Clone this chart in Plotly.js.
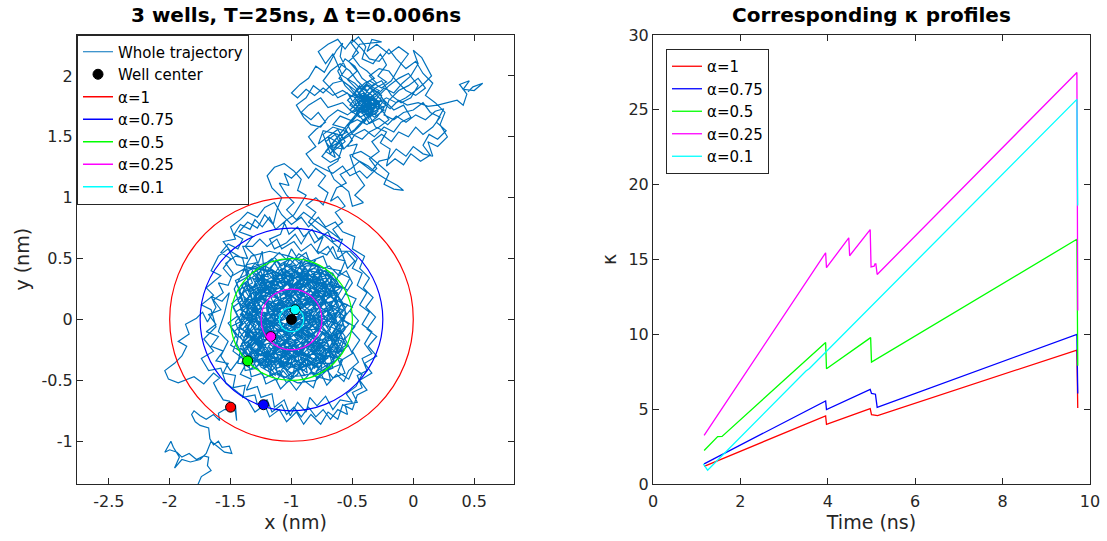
<!DOCTYPE html>
<html>
<head>
<meta charset="utf-8">
<script src="https://cdn.plot.ly/plotly-3.0.1.min.js"></script>
<style>
html,body{margin:0;padding:0;background:#ffffff;}
#chart{width:1107px;height:541px;}
</style>
</head>
<body>
<div id="chart"></div>
<script>
// ---------- Left panel: trajectory (x, y in nm) ----------
const tailPts = [[-1.77,-1.36],[-1.74,-1.29],[-1.66,-1.24],[-1.69,-1.20],[-1.68,-1.13],[-1.72,-1.12],[-1.78,-1.15],[-1.84,-1.10],[-1.90,-1.13],[-1.94,-1.09],
[-2.00,-1.07],[-2.04,-1.09],[-1.99,-1.00],[-1.97,-1.05],[-1.92,-1.13],[-1.96,-1.22],[-1.90,-1.15],[-1.83,-1.17],[-1.75,-1.15],[-1.70,-1.10],
[-1.66,-1.00],[-1.60,-1.05],[-1.55,-1.09],[-1.49,-1.10],[-1.51,-1.04],[-1.57,-1.05],[-1.60,-1.00],[-1.64,-1.03],[-1.67,-0.98],[-1.68,-0.89],
[-1.75,-0.87],[-1.79,-0.84],[-1.82,-0.78],[-1.80,-0.75],[-1.75,-0.79],[-1.70,-0.82],[-1.64,-0.78],[-1.59,-0.83],[-1.60,-0.77],[-1.55,-0.74],
[-1.49,-0.74],[-1.46,-0.70],[-1.45,-0.83],[-1.46,-0.76],[-1.51,-0.67],[-1.56,-0.66],[-1.61,-0.58],[-1.64,-0.52],[-1.59,-0.48],
[-1.64,-0.44],[-1.72,-0.53],[-1.80,-0.47],[-1.93,-0.52],[-2.01,-0.49],[-2.04,-0.42],[-1.96,-0.36],[-1.90,-0.30],[-1.86,-0.22],[-1.93,-0.18],
[-1.84,-0.12],[-1.87,-0.04],[-1.78,0.01],[-1.73,0.06],[-1.69,-0.02],[-1.62,0.10],[-1.66,0.19],[-1.57,0.15],[-1.51,0.22],[-1.55,0.05],
[-1.60,-0.10],[-1.52,-0.18],[-1.58,-0.30],[-1.50,-0.42]];

const denseCorePts = [[-0.95,0.32],[-0.78,0.18],[-0.98,0.05],[-1.21,0.26],[-1.35,0.04],[-1.12,-0.14],[-0.85,-0.30],[-0.67,-0.12],[-0.82,0.10],[-0.64,0.21],
[-0.88,0.38],[-1.08,0.20],[-1.28,0.34],[-1.38,0.12],[-1.20,-0.02],[-1.36,-0.22],[-1.14,-0.36],[-0.94,-0.18],[-0.74,-0.34],[-0.60,-0.05],
[-0.78,0.02],[-0.70,0.28],[-0.92,0.14],[-1.10,0.38],[-1.24,0.12],[-1.40,-0.08],[-1.22,-0.26],[-1.02,-0.40],[-0.90,-0.22],[-1.06,-0.04],
[-0.86,-0.08],[-0.62,0.10],[-0.76,0.36],[-0.98,0.24],[-1.16,0.08],[-1.32,0.26],[-1.18,0.40],[-1.00,0.12],[-0.80,-0.18],[-0.66,-0.28],
[-0.88,-0.38],[-1.08,-0.26],[-1.30,-0.34],[-1.42,-0.14],[-1.26,0.06],[-1.04,-0.12],[-0.84,0.04],[-0.70,-0.06],[-0.58,0.14],[-0.72,0.34],
[-0.90,0.28],[-1.06,0.42],[-1.22,0.22],[-1.38,0.30],[-1.30,0.10],[-1.14,-0.06],[-0.96,-0.28],[-0.78,-0.40],[-0.62,-0.22],[-0.76,-0.04],
[-0.94,0.08],[-1.12,0.30],[-0.96,0.40],[-0.80,0.24],[-0.66,0.02],[-0.84,-0.14],[-1.02,-0.32],[-1.20,-0.16],[-1.34,-0.30],[-1.16,-0.42],
[-0.98,-0.20],[-0.82,-0.34],[-0.64,-0.18],[-0.56,0.02],[-0.74,0.16],[-0.90,0.40],[-1.14,0.20],[-1.32,0.40],[-1.42,0.18],[-1.28,-0.04],
[-1.10,0.06],[-0.92,-0.06],[-0.74,-0.24],[-0.90,-0.42],[-1.10,-0.36],[-1.26,-0.20],[-1.40,0.00],[-1.24,0.32],[-1.04,0.30],[-0.86,0.16],
[-0.68,0.30],[-0.60,0.08],[-0.80,-0.08],[-0.98,-0.10],[-1.16,-0.28],[-1.04,-0.42],[-0.84,-0.26],[-0.70,-0.40],[-0.58,-0.16],[-0.76,-0.10],
[-0.86,0.08],[-1.00,0.20],[-1.16,0.14],[-1.30,0.18],[-1.20,0.30],[-1.02,0.36],[-0.84,0.32],[-0.72,0.22],[-0.80,0.12],[-0.94,0.00],
[-1.08,-0.10],[-1.24,-0.08],[-1.36,-0.18],[-1.28,-0.30],[-1.12,-0.22],[-0.98,-0.32],[-0.86,-0.20],[-0.72,-0.16],[-0.64,-0.32],[-0.78,-0.28],
[-0.92,-0.12],[-1.04,0.04],[-0.90,0.20],[-0.78,0.30],[-0.94,0.36],[-1.10,0.26],[-1.26,0.24],[-1.36,0.10],[-1.22,0.02],[-1.06,0.10],
[-0.94,-0.04],[-0.80,-0.02],[-0.68,0.14],[-0.62,-0.04],[-0.72,-0.20],[-0.86,-0.30],[-1.00,-0.24],[-1.14,-0.32],[-1.28,-0.24],[-1.20,-0.10],
[-1.32,-0.06],[-1.38,0.06],[-1.26,0.16],[-1.14,0.24],[-1.00,0.30],[-0.88,0.22],[-0.76,0.08],[-0.88,-0.04],[-1.02,-0.16],[-1.18,-0.20],
[-1.06,-0.30],[-0.92,-0.36],[-0.80,-0.26],[-0.68,-0.08],[-0.82,0.18],[-0.96,0.16],[-1.10,0.02],[-1.24,-0.14],[-1.12,-0.04],[-0.98,0.14],
[-0.84,0.26],[-0.70,0.18],[-0.60,0.26],[-0.66,0.38],[-0.82,0.42],[-0.98,0.36],[-1.14,0.36],[-1.28,0.28],[-1.40,0.22],[-1.34,-0.02],
[-1.42,-0.24],[-1.24,-0.36],[-1.06,-0.20],[-0.90,-0.14],[-0.74,-0.30],[-0.60,-0.30],[-0.70,-0.12],[-0.90,0.06],[-1.06,0.18],[-1.20,0.12],
[-1.12,-0.18],[-0.96,-0.06],[-0.82,-0.12],[-0.94,-0.24],[-1.08,-0.38],[-1.22,-0.30],[-1.36,-0.10],[-1.30,0.14],[-1.16,0.32],[-1.00,0.42],
[-0.86,0.34],[-0.74,0.26],[-0.64,0.16],[-0.56,-0.08],[-0.68,-0.24],[-0.84,-0.42],[-0.96,-0.26],[-1.10,-0.14],[-1.26,0.00],[-1.12,0.10],
[-0.96,0.22],[-0.82,0.36],[-0.72,0.40],[-0.62,0.30],[-0.74,0.12],[-0.88,0.02],[-1.02,-0.08],[-1.16,-0.02],[-1.30,0.02],[-1.42,0.08],
[-1.32,0.22],[-1.18,0.22],[-1.04,0.24],[-0.92,0.32],[-0.78,0.40],[-0.70,0.04],[-0.60,-0.12],[-0.66,-0.36],[-0.80,-0.36],[-0.94,-0.30],
[-1.08,-0.20],[-1.22,-0.40],[-1.34,-0.24],[-1.20,-0.06],[-1.06,0.00],[-0.92,0.10],[-0.80,0.22],[-0.68,0.36],[-0.84,0.12],[-1.00,-0.02],
[-1.14,-0.10],[-1.28,-0.16],[-1.40,-0.28],[-1.30,-0.40],[-1.14,-0.26],[-1.00,-0.14],[-0.86,-0.04],[-0.72,0.06],[-0.62,0.20],[-0.76,0.30],
[-0.90,0.12],[-1.04,0.34],[-1.18,0.26],[-1.32,0.34],[-1.22,0.16],[-1.08,0.06],[-0.94,-0.14],[-0.80,-0.22],[-0.66,-0.16],[-0.58,-0.26]];

const corePts = [[-1.41,-0.35],[-1.33,-0.41],[-1.27,-0.30],[-1.35,-0.22],[-1.24,-0.17],[-1.30,-0.08],[-1.19,-0.11],[-1.22,0.01],[-1.12,-0.05],
[-1.15,0.09],[-1.05,0.03],[-1.09,0.16],[-0.98,0.11],[-1.02,0.24],[-0.91,0.19],[-0.95,0.31],[-0.84,0.26],[-0.89,0.38],[-0.78,0.33],
[-0.81,0.21],[-0.72,0.24],[-0.77,0.12],[-0.66,0.15],[-0.71,0.03],[-0.62,0.06],[-0.68,-0.06],[-0.59,-0.10],[-0.69,-0.15],[-0.63,-0.24],
[-0.74,-0.21],[-0.70,-0.32],[-0.81,-0.27],[-0.78,-0.39],[-0.89,-0.33],[-0.87,-0.44],[-0.97,-0.36],[-0.99,-0.47],[-1.06,-0.38],[-1.11,-0.46],
[-1.14,-0.34],[-1.22,-0.40],[-1.20,-0.27],[-1.31,-0.30],[-1.25,-0.19],[-1.37,-0.14],[-1.29,-0.05],[-1.40,0.02],[-1.31,0.08],[-1.38,0.17],
[-1.27,0.15],[-1.33,0.27],[-1.21,0.23],[-1.25,0.35],[-1.14,0.29],[-1.16,0.41],[-1.06,0.34],[-1.05,0.45],[-0.96,0.38],[-0.92,0.47],
[-0.86,0.39],[-0.79,0.44],[-0.75,0.35],[-0.66,0.38],[-0.69,0.27],[-0.58,0.26],[-0.64,0.16],[-0.54,0.12],[-0.61,0.02],[-0.53,-0.04],
[-0.60,-0.12],[-0.55,-0.21],[-0.64,-0.27],[-0.60,-0.37],[-0.70,-0.41],[-0.68,-0.50],[-0.79,-0.47],[-0.82,-0.56],[-0.90,-0.50],[-0.96,-0.58],
[-1.02,-0.50],[-1.09,-0.57],[-1.13,-0.49],[-1.21,-0.53],[-1.24,-0.44],[-1.33,-0.47],[-1.35,-0.37],[-1.44,-0.36],[-1.42,-0.26],[-1.50,-0.21],
[-1.45,-0.12],[-1.52,-0.03],[-1.44,0.03],[-1.49,0.13],[-1.41,0.20],[-1.45,0.30],[-1.36,0.35],[-1.37,0.45],[-1.27,0.47],[-1.24,0.56],
[-1.20,0.05],[-1.05,0.12],[-1.18,0.24],[-1.02,0.20],[-0.88,0.28],[-0.95,0.14],[-0.82,0.06],[-0.97,0.02],[-1.10,-0.08],[-0.95,-0.10],
[-0.80,-0.16],[-0.90,-0.28],[-1.05,-0.25],[-1.18,-0.15],[-1.32,-0.20],[-1.20,-0.05],[-1.35,0.02],[-1.22,0.20],[-1.08,0.32],[-0.93,0.26],
[-0.78,0.34],[-0.70,0.20],[-0.83,0.14],[-0.68,0.05],[-0.83,-0.05],[-0.70,-0.14],[-0.85,-0.22],[-0.76,-0.35],[-0.93,-0.40],[-1.08,-0.34],
[-1.22,-0.35],[-1.12,-0.22],[-1.27,-0.10],[-1.14,0.00],[-1.00,-0.06],[-0.86,0.00],[-0.98,0.07],[-1.12,0.17],[-0.99,0.26],[-0.86,0.36],
[-1.00,0.34],[-1.15,0.40],[-1.30,0.42],[-1.20,0.28],[-1.35,0.08],[-1.25,-0.26],[-1.10,-0.45],[-0.95,-0.52],[-0.80,-0.50],[-0.67,-0.38],
[-0.57,-0.25],[-0.66,-0.12],[-0.55,0.05],[-0.63,0.21],[-0.72,0.42],[-0.88,0.46],[-1.02,0.52],[-1.18,0.56],[-1.33,0.52],[-1.40,0.40],
[-1.17,0.48],[-1.10,0.55],[-1.04,0.49],[-1.00,0.58],[-0.95,0.50],[-0.88,0.55],[-0.85,0.47],[-0.96,0.42],[-1.03,0.31],[-0.94,0.24],
[-1.01,0.17],[-0.93,0.08],[-1.03,0.02],[-0.95,-0.06],[-1.05,-0.12],[-0.96,-0.19],[-1.07,-0.25],[-0.99,-0.31],[-0.91,-0.24],[-0.84,-0.17],
[-0.91,-0.09],[-0.83,-0.02],[-0.89,0.06],[-0.80,0.09],[-0.86,0.18],[-0.77,0.20],[-0.83,0.30],[-0.73,0.29],[-0.78,0.40],[-0.69,0.44],
[-0.61,0.36],[-0.55,0.40],[-0.50,0.30],[-0.56,0.21],[-0.47,0.17],[-0.52,0.07],[-0.45,-0.01],[-0.51,-0.09],[-0.44,-0.17],[-0.50,-0.26],
[-0.45,-0.35],[-0.53,-0.42],[-0.57,-0.51],[-0.63,-0.45],[-0.71,-0.54],[-0.75,-0.46],[-0.84,-0.43],[-0.80,-0.33],[-0.92,-0.28],[-0.86,-0.19],
[-0.97,-0.12],[-0.89,-0.02],[-1.00,0.04],[-0.92,0.13],[-1.04,0.10],[-0.99,0.20],[-1.10,0.22],[-1.07,0.11],[-1.17,0.14],[-1.13,0.03],
[-1.23,0.06],[-1.18,-0.04],[-1.28,-0.01],[-1.23,-0.12],[-1.33,-0.10],[-1.27,-0.22],[-1.17,-0.19],[-1.10,-0.13],[-1.15,-0.24],[-1.05,-0.20],
[-1.09,-0.31],[-0.98,-0.25],[-1.01,-0.39],[-0.92,-0.36],[-0.95,-0.45],[-1.04,-0.52],[-1.10,-0.42],[-1.18,-0.47],[-1.16,-0.36],[-1.26,-0.38],
[-1.19,-0.29],[-1.30,-0.24],[-1.36,-0.31],[-1.41,-0.20],[-1.34,-0.12],[-1.43,-0.07],[-1.35,0.01],[-1.27,0.05],[-1.33,0.14],[-1.24,0.18],
[-1.29,0.28],[-1.19,0.31],[-1.13,0.23],[-1.20,0.16],[-1.11,0.12],[-1.16,0.02],[-1.07,-0.03],[-1.12,-0.13],[-1.02,-0.15],[-1.06,-0.06],
[-0.97,-0.01],[-1.01,0.08],[-0.91,0.02],[-0.94,0.12],[-0.85,0.12],[-0.88,0.22],[-0.97,0.28],[-0.91,0.35],[-1.00,0.40],[-1.09,0.37],
[-1.05,0.27],[-1.14,0.33],[-1.22,0.29],[-1.17,0.20],[-1.27,0.25],[-1.21,0.12],[-1.31,0.19],[-1.25,0.09],[-1.34,0.04],[-1.26,-0.04],
[-1.19,0.00],[-1.09,-0.06],[-1.14,-0.17],[-1.03,-0.10],[-0.95,-0.14],[-0.99,-0.22],[-0.89,-0.19],[-0.94,-0.30],[-0.84,-0.29],[-0.88,-0.38],
[-0.77,-0.33],[-0.73,-0.24],[-0.80,-0.20],[-0.74,-0.11],[-0.81,-0.07],[-0.73,0.02],[-0.80,0.04],[-0.71,0.10],[-0.76,0.19],[-0.67,0.21],
[-0.73,0.31],[-0.81,0.36],[-0.86,0.28],[-0.93,0.33],[-0.89,0.42],[-0.99,0.51],[-1.08,0.46],[-1.13,0.39],[-1.22,0.44],[-1.19,0.35],
[-1.29,0.37],[-1.24,0.27],[-1.34,0.23],[-1.39,0.30],[-1.43,0.22],[-1.38,0.11],[-1.46,0.06],[-1.40,-0.03],[-1.47,-0.10],[-1.38,-0.19],
[-1.31,-0.16],[-1.21,-0.21],[-1.26,-0.30],[-1.16,-0.28],[-1.12,-0.19],[-1.02,-0.23],[-1.05,-0.33],[-0.95,-0.28],[-0.98,-0.18],[-0.90,-0.12],
[-0.82,-0.13],[-0.87,-0.24],[-0.78,-0.26],[-0.71,-0.19],[-0.66,-0.30],[-0.58,-0.33],[-0.62,-0.43],[-0.53,-0.49],[-0.49,-0.40],[-0.42,-0.45],
[-0.47,-0.55],[-0.55,-0.61],[-0.50,-0.68],[-0.60,-0.66],[-0.66,-0.74],[-0.72,-0.63],[-0.79,-0.71],[-0.85,-0.64],[-0.88,-0.76],[-0.95,-0.68],
[-1.01,-0.79],[-1.06,-0.66],[-1.14,-0.72],[-1.16,-0.61],[-1.25,-0.64],[-1.28,-0.55],[-1.37,-0.58],[-1.33,-0.49],[-1.42,-0.45],[-1.37,-0.36],
[-1.45,-0.20],[-1.40,0.05],[-1.47,0.25],[-1.38,0.42]];

const periphPts = [[-1.50,0.35],[-1.56,0.42],[-1.50,0.50],[-1.58,0.55],[-1.52,0.62],[-1.44,0.58],[-1.40,0.66],[-1.47,0.70],[-1.42,0.78],[-1.34,0.74],
[-1.30,0.82],[-1.24,0.76],[-1.18,0.84],[-1.13,0.74],[-1.06,0.80],[-1.02,0.70],[-0.95,0.76],[-0.90,0.68],[-0.83,0.74],[-0.78,0.66],
[-0.70,0.72],[-0.66,0.64],[-0.58,0.66],[-0.62,0.56],[-0.52,0.56],[-0.46,0.50],[-0.50,0.42],[-0.42,0.38],[-0.46,0.28],[-0.38,0.22],
[-0.44,0.12],[-0.36,0.06],[-0.42,-0.04],[-0.34,-0.10],[-0.40,-0.20],[-0.34,-0.28],[-0.42,-0.32],[-0.38,-0.42],[-0.46,-0.46],[-0.42,-0.56],
[-0.50,-0.60],[-0.46,-0.68],[-0.56,-0.70],[-0.54,-0.78],[-0.62,-0.74],[-0.68,-0.82],[-0.74,-0.74],[-0.80,-0.80],[-0.86,-0.72],[-0.92,-0.80],
[-0.98,-0.72],[-1.04,-0.78],[-1.08,-0.70],[-1.16,-0.76],[-1.20,-0.66],[-1.28,-0.70],[-1.30,-0.62],[-1.40,-0.64],[-1.38,-0.54],[-1.48,-0.56],
[-1.46,-0.46],[-1.56,-0.44],[-1.52,-0.36],[-1.62,-0.34],[-1.56,-0.26],[-1.66,-0.22],[-1.60,-0.14],[-1.70,-0.10],[-1.62,-0.04],[-1.68,0.04],
[-1.58,0.08],[-1.64,0.16],[-1.56,0.22],[-1.60,0.30],[-1.52,0.28],[-1.48,0.38],[-1.54,0.46],[-1.46,0.52],[-1.36,0.50],[-1.40,0.60],
[-1.32,0.60],[-1.26,0.66],[-1.20,0.60],[-1.12,0.66],[-1.08,0.58],[-0.98,0.64],[-0.92,0.56],[-0.84,0.62],[-0.78,0.54],[-0.70,0.60],
[-0.64,0.50],[-0.56,0.48],[-0.60,0.38],[-0.52,0.34],[-0.56,0.26]];

const periph2Pts = [[-1.45,0.45],[-1.52,0.58],[-1.60,0.52],[-1.66,0.40],[-1.58,0.36],[-1.70,0.26],[-1.64,0.20],[-1.74,0.12],[-1.66,0.08],[-1.62,-0.06],
[-1.72,-0.16],[-1.64,-0.26],[-1.74,-0.32],[-1.68,-0.42],[-1.58,-0.40],[-1.54,-0.52],[-1.44,-0.60],[-1.36,-0.66],[-1.30,-0.76],[-1.22,-0.70],
[-1.18,-0.80],[-1.10,-0.74],[-1.04,-0.84],[-0.96,-0.76],[-0.90,-0.86],[-0.84,-0.78],[-0.76,-0.86],[-0.70,-0.76],[-0.62,-0.82],[-0.58,-0.70],
[-0.50,-0.74],[-0.46,-0.62],[-0.38,-0.58],[-0.44,-0.50],[-0.34,-0.44],[-0.40,-0.36],[-0.30,-0.30],[-0.37,-0.22],[-0.30,-0.14],[-0.38,-0.08],
[-0.31,0.02],[-0.39,0.10],[-0.33,0.18],[-0.41,0.26],[-0.36,0.34],[-0.44,0.42],[-0.40,0.52],[-0.50,0.58],[-0.48,0.68],[-0.58,0.72],
[-0.64,0.80],[-0.72,0.76],[-0.78,0.84],[-0.86,0.76],[-0.92,0.84],[-1.00,0.78],[-1.08,0.86],[-1.14,0.96],[-1.22,0.92],[-1.28,0.84],
[-1.36,0.88],[-1.42,0.82],[-1.50,0.76],[-1.46,0.66],[-1.56,0.64],[-1.50,0.56],[-1.40,0.50]];

const fineRowPts = [[-1.18,-0.44],[-1.12,-0.50],[-1.07,-0.42],[-1.01,-0.49],[-0.95,-0.41],[-0.90,-0.50],[-0.84,-0.43],[-0.79,-0.48],
[-0.70,-0.38],[-0.75,-0.31],[-0.81,-0.40],[-0.87,-0.32],[-0.93,-0.39],[-0.99,-0.30],[-1.05,-0.38],[-1.11,-0.31],[-1.17,-0.40],[-1.23,-0.32],[-1.29,-0.39],[-1.33,-0.31],
[-1.40,-0.27],[-1.35,-0.19],[-1.29,-0.28],[-1.23,-0.20],[-1.18,-0.27],[-1.12,-0.18],[-1.06,-0.26],[-1.00,-0.19],[-0.94,-0.27],[-0.88,-0.18],[-0.82,-0.26],[-0.76,-0.19],[-0.70,-0.27],[-0.64,-0.20],[-0.60,-0.26],
[-0.56,-0.14],[-0.61,-0.07],[-0.67,-0.15],[-0.73,-0.08],[-0.79,-0.16],[-0.85,-0.07],[-0.91,-0.15],[-0.97,-0.08],[-1.03,-0.16],[-1.09,-0.07],[-1.15,-0.15],[-1.21,-0.08],[-1.27,-0.16],[-1.33,-0.09],[-1.39,-0.15],[-1.44,-0.08],
[-1.46,-0.02],[-1.40,0.05],[-1.34,-0.03],[-1.28,0.04],[-1.22,-0.04],[-1.16,0.05],[-1.10,-0.03],[-1.04,0.04],[-0.98,-0.04],[-0.92,0.05],[-0.86,-0.03],[-0.80,0.04],[-0.74,-0.04],[-0.68,0.05],[-0.62,-0.03],[-0.56,0.04],
[-0.56,0.10],[-0.61,0.17],[-0.67,0.09],[-0.73,0.16],[-0.79,0.08],[-0.85,0.17],[-0.91,0.09],[-0.97,0.16],[-1.03,0.08],[-1.09,0.17],[-1.15,0.09],[-1.21,0.16],[-1.27,0.08],[-1.33,0.16],[-1.39,0.10],[-1.44,0.15],
[-1.40,0.21],[-1.35,0.28],[-1.29,0.20],[-1.23,0.29],[-1.17,0.21],[-1.11,0.28],[-1.05,0.20],[-0.99,0.29],[-0.93,0.21],[-0.87,0.28],[-0.81,0.20],[-0.75,0.29],[-0.69,0.21],[-0.63,0.27],
[-0.68,0.33],[-0.73,0.40],[-0.79,0.32],[-0.85,0.41],[-0.91,0.33],[-0.97,0.40],[-1.03,0.32],[-1.09,0.41],[-1.15,0.33],[-1.21,0.40],[-1.27,0.32],[-1.32,0.38],
[-1.20,0.45],[-1.14,0.51],[-1.08,0.44],[-1.02,0.50],[-0.96,0.44],[-0.90,0.50],[-0.84,0.45],[-0.80,0.49]];

const fineColPts = [[-1.36,-0.30],[-1.42,-0.22],[-1.35,-0.14],[-1.43,-0.05],[-1.36,0.03],[-1.42,0.11],[-1.35,0.19],[-1.41,0.28],
[-1.25,0.40],[-1.30,0.33],[-1.23,0.25],[-1.31,0.17],[-1.24,0.09],[-1.30,0.01],[-1.23,-0.07],[-1.31,-0.15],[-1.24,-0.23],[-1.30,-0.31],[-1.25,-0.39],
[-1.13,-0.46],[-1.18,-0.38],[-1.11,-0.30],[-1.19,-0.22],[-1.12,-0.14],[-1.18,-0.06],[-1.11,0.02],[-1.19,0.10],[-1.12,0.18],[-1.18,0.26],[-1.11,0.34],[-1.17,0.42],[-1.13,0.48],
[-1.01,0.50],[-1.06,0.42],[-0.99,0.34],[-1.07,0.26],[-1.00,0.18],[-1.06,0.10],[-0.99,0.02],[-1.07,-0.06],[-1.00,-0.14],[-1.06,-0.22],[-0.99,-0.30],[-1.07,-0.38],[-1.01,-0.47],
[-0.89,-0.46],[-0.94,-0.38],[-0.87,-0.30],[-0.95,-0.22],[-0.88,-0.14],[-0.94,-0.06],[-0.87,0.02],[-0.95,0.10],[-0.88,0.18],[-0.94,0.26],[-0.87,0.34],[-0.93,0.42],[-0.89,0.48],
[-0.77,0.44],[-0.82,0.36],[-0.75,0.28],[-0.83,0.20],[-0.76,0.12],[-0.82,0.04],[-0.75,-0.04],[-0.83,-0.12],[-0.76,-0.20],[-0.82,-0.28],[-0.75,-0.36],[-0.80,-0.43],
[-0.65,-0.34],[-0.70,-0.26],[-0.63,-0.18],[-0.71,-0.10],[-0.64,-0.02],[-0.70,0.06],[-0.63,0.14],[-0.71,0.22],[-0.64,0.30],[-0.68,0.36]];

const denseCore2Pts = [[-1.02,0.44],[-0.90,0.36],[-0.96,0.26],[-0.84,0.20],[-0.92,0.10],[-0.80,0.00],[-0.88,-0.10],[-0.76,-0.16],[-0.84,-0.26],[-0.72,-0.32],
[-0.80,-0.44],[-0.92,-0.46],[-1.00,-0.36],[-1.12,-0.40],[-1.18,-0.30],[-1.30,-0.28],[-1.24,-0.18],[-1.36,-0.12],[-1.30,-0.02],[-1.42,0.04],
[-1.34,0.14],[-1.44,0.24],[-1.32,0.30],[-1.36,0.40],[-1.24,0.44],[-1.16,0.50],[-1.10,0.40],[-1.00,0.46],[-0.94,0.54],[-0.84,0.48],
[-0.74,0.52],[-0.70,0.42],[-0.60,0.40],[-0.64,0.30],[-0.54,0.24],[-0.60,0.14],[-0.50,0.10],[-0.58,0.00],[-0.48,-0.06],[-0.56,-0.16],
[-0.50,-0.28],[-0.60,-0.34],[-0.56,-0.44],[-0.66,-0.48],[-0.72,-0.40],[-0.82,-0.46],[-0.86,-0.36],[-0.96,-0.42],[-1.06,-0.48],[-1.14,-0.44],
[-1.22,-0.48],[-1.28,-0.40],[-1.38,-0.42],[-1.40,-0.32],[-1.48,-0.26],[-1.44,-0.16],[-1.50,-0.06],[-1.42,-0.02],[-1.48,0.10],[-1.40,0.16],
[-1.46,0.32],[-1.38,0.36],[-1.30,0.46],[-1.20,0.40],[-1.12,0.48],[-1.06,0.38],[-0.98,0.32],[-1.04,0.22],[-0.96,0.16],[-1.06,0.08],
[-0.98,-0.02],[-1.08,-0.06],[-1.00,-0.16],[-1.10,-0.22],[-1.02,-0.28],[-1.12,-0.34],[-1.04,-0.36],[-0.94,-0.34],[-0.96,-0.22],[-0.86,-0.16],
[-0.94,-0.08],[-0.84,-0.06],[-0.90,0.04],[-0.78,0.08],[-0.86,0.14],[-0.74,0.20],[-0.82,0.28],[-0.70,0.32],[-0.78,0.44],[-0.88,0.44],
[-0.96,0.34],[-1.08,0.30],[-1.16,0.38],[-1.26,0.36],[-1.22,0.26],[-1.32,0.22],[-1.26,0.12],[-1.36,0.08],[-1.28,0.00],[-1.38,-0.06],
[-1.30,-0.14],[-1.40,-0.22],[-1.32,-0.34],[-1.22,-0.36],[-1.16,-0.24],[-1.26,-0.22],[-1.18,-0.12],[-1.28,-0.08],[-1.20,0.04],[-1.30,0.08],
[-1.18,0.10],[-1.24,0.20],[-1.12,0.18],[-1.18,0.30],[-1.06,0.26],[-1.12,0.36],[-1.00,0.38],[-0.92,0.28],[-0.86,0.38],[-0.80,0.30],
[-0.76,0.38],[-0.66,0.34],[-0.72,0.26],[-0.62,0.22],[-0.68,0.12],[-0.58,0.08],[-0.66,-0.02],[-0.56,-0.06],[-0.64,-0.14],[-0.54,-0.22],
[-0.62,-0.28],[-0.70,-0.22],[-0.66,-0.40],[-0.76,-0.44],[-0.74,-0.28],[-0.82,-0.20],[-0.78,-0.10],[-0.86,-0.02],[-0.80,0.14],[-0.90,0.16],
[-0.84,0.24],[-0.94,0.20],[-0.90,0.30],[-1.00,0.26],[-0.96,0.44],[-1.06,0.46],[-1.04,0.34],[-1.14,0.28],[-1.10,0.14],[-1.20,0.08],
[-1.14,-0.02],[-1.24,-0.04],[-1.16,-0.14],[-1.08,-0.16],[-1.14,-0.28],[-1.04,-0.30],[-1.10,-0.38],[-1.00,-0.44],[-0.90,-0.38],[-0.94,-0.28],
[-0.84,-0.32],[-0.88,-0.22],[-0.78,-0.24],[-0.72,-0.14],[-0.80,-0.06],[-0.70,0.00],[-0.76,0.06],[-0.66,0.08],[-0.72,0.16],[-0.80,0.20],
[-0.88,0.12],[-0.96,0.06],[-1.04,0.12],[-1.12,0.08],[-1.08,0.00],[-1.16,-0.06],[-1.06,-0.10],[-0.98,-0.06],[-0.92,-0.16],[-1.02,-0.20]];

const upperLeftPts = [[-1.30,0.52],[-1.38,0.60],[-1.32,0.68],[-1.43,0.72],[-1.36,0.80],[-1.28,0.75],[-1.22,0.86],[-1.15,0.78],[-1.12,0.90],[-1.08,1.00],
[-1.16,1.08],[-1.20,1.18],[-1.14,1.25],[-1.06,1.28],[-0.98,1.22],[-0.92,1.15],[-0.95,1.06],[-0.88,1.02],[-0.93,0.94],[-0.98,0.86],
[-1.05,0.81],[-1.09,0.70],[-1.18,0.66],[-1.14,0.58],[-1.04,0.63],[-0.97,0.70],[-0.92,0.62],[-0.86,0.72],[-0.81,0.63],[-0.74,0.68],
[-0.79,0.56],[-0.71,0.53],[-0.66,0.60],[-0.62,0.50],[-0.55,0.56],[-0.48,0.48],[-0.54,0.42],[-0.60,0.58]];

const midPts = [[-0.86,0.80],[-0.80,0.88],[-0.88,0.94],[-0.80,1.00],[-0.74,0.94],[-0.70,1.04],[-0.78,1.10],[-0.72,1.18],[-0.80,1.24],[-0.86,1.16],
[-0.92,1.24],[-1.00,1.16],[-1.06,1.20],[-1.02,1.10],[-1.10,1.12],[-1.04,1.02],[-0.98,0.96],[-1.04,0.90],[-0.96,0.82],[-0.90,0.88]];

const bridgePts = [[-0.60,0.66],[-0.66,0.74],[-0.58,0.80],[-0.64,0.88],[-0.56,0.93],[-0.62,1.01],[-0.68,0.97],[-0.63,1.08],[-0.55,1.12],[-0.60,1.19],
[-0.51,1.24],[-0.44,1.30],[-0.37,1.26],[-0.30,1.20],[-0.22,1.15],[-0.13,1.10],[-0.08,1.06],[-0.16,1.07],[-0.24,1.11],[-0.20,1.20],
[-0.28,1.27],[-0.35,1.33],[-0.43,1.38],[-0.52,1.35],[-0.47,1.20],[-0.40,1.10],[-0.48,1.02],[-0.41,0.96],[-0.50,0.93],[-0.53,1.05],
[-0.65,1.15],[-0.70,1.25],[-0.62,1.30],[-0.58,1.42]];

const upperDensePts = [[-0.60,1.44],[-0.70,1.50],[-0.62,1.56],[-0.56,1.46],[-0.66,1.38],[-0.72,1.46],[-0.64,1.52],[-0.58,1.40],[-0.68,1.42],[-0.62,1.50],
[-0.54,1.54],[-0.66,1.58],[-0.74,1.52],[-0.68,1.36],[-0.60,1.48],
[-0.40,1.80],[-0.30,1.74],[-0.46,1.70],[-0.34,1.88],[-0.26,1.80],[-0.42,1.74],[-0.36,1.64],[-0.48,1.82],[-0.38,1.92],[-0.28,1.86],
[-0.22,1.76],[-0.34,1.70],[-0.44,1.86],[-0.52,1.76],[-0.40,1.68],[-0.30,1.80],[-0.38,1.84],[-0.46,1.78],[-0.32,1.66],[-0.24,1.72],
[-0.36,1.78],[-0.44,1.92],[-0.50,1.84],[-0.42,1.76],[-0.30,1.70],[-0.26,1.84],[-0.36,1.90],[-0.48,1.72],[-0.40,1.62],[-0.32,1.76],
[-0.40,1.84],[-0.34,1.80],[-0.44,1.70],[-0.54,1.80],[-0.46,1.88],[-0.36,1.72],[-0.28,1.78],[-0.36,1.86],[-0.42,1.80],[-0.38,1.74]];

const upper2Pts = [[-0.38,1.76],[-0.50,1.70],[-0.58,1.78],[-0.70,1.74],[-0.76,1.82],[-0.86,1.76],[-0.92,1.70],[-0.84,1.64],[-0.78,1.70],[-0.72,1.62],
[-0.80,1.56],[-0.86,1.50],[-0.80,1.42],[-0.88,1.36],[-0.82,1.28],[-0.74,1.24],[-0.66,1.20],[-0.58,1.26],[-0.52,1.18],[-0.44,1.22],
[-0.38,1.16],[-0.30,1.24],[-0.36,1.32],[-0.28,1.38],[-0.34,1.46],[-0.26,1.52],[-0.18,1.46],[-0.12,1.54],[-0.04,1.50],[0.02,1.58],
[0.08,1.52],[0.16,1.58],[0.22,1.66],[0.14,1.70],[0.08,1.78],[0.00,1.72],[-0.08,1.70],[-0.16,1.64],[-0.24,1.68],[-0.20,1.80],
[-0.12,1.88],[-0.04,1.92],[0.04,1.98],[0.10,1.90],[0.02,1.84],[-0.06,1.88],[-0.14,1.96],[-0.20,2.04],[-0.28,2.06],[-0.36,2.00],
[-0.30,1.94],[-0.38,1.88],[-0.46,1.96],[-0.52,2.04],[-0.60,2.10],[-0.68,2.04],[-0.74,1.96],[-0.68,1.90],[-0.62,1.82],[-0.54,1.86],
[-0.48,1.76],[-0.40,1.72],[-0.32,1.78],[-0.24,1.74],[-0.30,1.66],[-0.38,1.60],[-0.46,1.64],[-0.54,1.60],[-0.50,1.52],[-0.42,1.48],
[-0.36,1.54],[-0.28,1.58],[-0.20,1.64],[-0.26,1.72],[-0.34,1.84],[-0.42,1.90],[-0.36,1.96],[-0.26,1.90],[-0.18,1.96],[-0.10,2.10],
[-0.04,2.18],[-0.12,2.24],[-0.20,2.18],[-0.30,2.26],[-0.38,2.20],[-0.34,2.30],[-0.26,2.28],[-0.44,2.26],[-0.50,2.16],[-0.44,2.08],
[-0.38,2.04],[-0.32,1.98],[-0.40,1.94],[-0.48,1.86],[-0.40,1.78],[-0.36,1.70],[-0.44,1.66],[-0.52,1.72],[-0.44,1.80],[-0.36,1.82]];

const upper3Pts = [[-0.36,1.82],[-0.48,1.94],[-0.58,2.00],[-0.66,2.18],[-0.72,2.10],[-0.78,2.20],[-0.70,2.26],[-0.62,2.30],[-0.56,2.22],[-0.50,2.30],
[-0.42,2.22],[-0.36,2.14],[-0.28,2.12],[-0.20,2.22],[-0.14,2.14],[-0.06,2.06],[0.02,2.12],[0.08,2.02],[0.16,1.94],[0.10,1.84],
[0.18,1.78],[0.26,1.70],[0.22,1.60],[0.28,1.50],[0.20,1.42],[0.12,1.46],[0.16,1.34],[0.08,1.36],[0.00,1.42],[-0.06,1.34],
[-0.14,1.40],[-0.20,1.32],[-0.28,1.30],[-0.34,1.22],[-0.42,1.28],[-0.50,1.34],[-0.46,1.44],[-0.54,1.42],[-0.48,1.52],[-0.40,1.56],
[-0.32,1.50],[-0.24,1.58],[-0.16,1.54],[-0.10,1.62],[-0.02,1.66],[-0.08,1.76],[-0.16,1.72],[-0.24,1.80],[-0.30,1.72],[-0.38,1.68],
[-0.46,1.74],[-0.54,1.68],[-0.62,1.72],[-0.70,1.66],[-0.76,1.58],[-0.84,1.60],[-0.90,1.66],[-0.96,1.76],[-0.88,1.82],[-0.82,1.92],
[-0.74,1.86],[-0.66,1.94],[-0.58,1.96],[-0.50,1.90],[-0.42,1.84],[-0.34,1.76],[-0.28,1.84],[-0.20,1.92],[-0.12,1.98],[-0.04,2.02],
[0.04,1.92],[-0.02,1.82],[-0.10,1.78],[-0.18,1.84],[-0.26,1.96],[-0.34,1.92],[-0.42,1.98],[-0.48,2.08],[-0.56,2.14],[-0.62,2.04],
[-0.56,1.92],[-0.48,1.84],[-0.40,1.76],[-0.32,1.70],[-0.38,1.78],[-0.44,1.72]];

const upperPts = [[-0.66,1.46],[-0.72,1.38],[-0.64,1.33],[-0.70,1.50],[-0.78,1.44],[-0.74,1.55],[-0.62,1.52],[-0.57,1.40],[-0.50,1.47],[-0.56,1.57],
[-0.66,1.60],[-0.60,1.67],[-0.50,1.63],[-0.44,1.70],[-0.48,1.79],[-0.40,1.84],[-0.33,1.77],[-0.40,1.71],[-0.31,1.68],[-0.27,1.76],
[-0.35,1.82],[-0.28,1.88],[-0.38,1.93],[-0.45,1.86],[-0.37,1.78],[-0.44,1.74],[-0.36,1.66],[-0.29,1.71],[-0.33,1.80],[-0.42,1.79],
[-0.47,1.90],[-0.54,1.97],[-0.46,2.04],[-0.53,2.12],[-0.45,2.19],[-0.51,2.27],[-0.45,2.32],[-0.39,2.24],[-0.42,2.14],[-0.33,2.10],
[-0.27,2.18],[-0.22,2.09],[-0.29,2.00],[-0.22,1.95],[-0.31,1.90],[-0.39,1.82],[-0.34,1.74],[-0.42,1.70],[-0.36,1.61],[-0.28,1.65],
[-0.21,1.60],[-0.14,1.67],[-0.06,1.62],[0.02,1.68],[0.10,1.64],[0.18,1.71],[0.25,1.73],[0.19,1.62],[0.27,1.55],[0.20,1.48],
[0.13,1.52],[0.08,1.43],[0.14,1.35],[0.06,1.30],[-0.02,1.36],[-0.08,1.27],[-0.15,1.32],[-0.22,1.26],[-0.19,1.40],[-0.27,1.45],
[-0.22,1.54],[-0.31,1.58],[-0.37,1.69],[-0.30,1.76],[-0.38,1.80],[-0.32,1.85],[-0.41,1.77],[-0.35,1.72],[-0.45,1.76],[-0.40,1.86],
[-0.50,1.83],[-0.58,1.88],[-0.66,1.84],[-0.74,1.90],[-0.81,1.84],[-0.88,1.89],[-0.95,1.82],[-1.00,1.86],[-0.93,1.93],[-0.86,1.98],
[-0.80,2.08],[-0.73,2.03],[-0.68,2.12],[-0.63,2.21],[-0.58,2.27],[-0.60,2.16],[-0.55,2.06],[-0.61,1.98],[-0.53,1.92],[-0.46,1.83],
[-0.39,1.79],[-0.31,1.83],[-0.24,1.90],[-0.16,1.86],[-0.09,1.94],[-0.02,2.00],[0.04,2.10],[0.00,2.21],[0.07,2.15],[0.11,2.07],
[0.15,2.00],[0.09,1.94],[0.02,1.88],[-0.06,1.82],[-0.14,1.78],[-0.22,1.82],[-0.29,1.78],[-0.37,1.76],[-0.33,1.69],[-0.41,1.64],
[-0.48,1.56],[-0.55,1.51],[-0.62,1.45],[-0.69,1.41],[-0.75,1.34],[-0.68,1.29],[-0.60,1.33],[-0.66,1.39],[-0.59,1.47],[-0.51,1.52],
[-0.44,1.59],[-0.38,1.66],[-0.32,1.73],[-0.39,1.77],[-0.34,1.81],[-0.26,1.79],[-0.19,1.73],[-0.12,1.80],[-0.05,1.76],[0.04,1.78],
[0.12,1.75],[0.20,1.76],[0.28,1.78],[0.36,1.80],[0.41,1.76],[0.44,1.85],[0.38,1.93],[0.46,1.96],[0.41,1.89],[0.50,1.88],
[0.57,1.94],[0.49,1.91],[0.45,1.87]];

// well centre and entry points
const wellX = [-1.0];
const wellY = [0.0];
const alphaLabels = ['α=1', 'α=0.75', 'α=0.5', 'α=0.25', 'α=0.1'];
const radii = [1.0, 0.75, 0.5, 0.25, 0.1];
const entryX = [-1.50, -1.23, -1.36, -1.17, -0.97];
const entryY = [-0.72, -0.70, -0.34, -0.14, 0.08];

// left axis ticks
const xTickVals = [-2.5, -2, -1.5, -1, -0.5, 0, 0.5];
const xTickText = ['-2.5', '-2', '-1.5', '-1', '-0.5', '0', '0.5'];
const yTickVals = [-1, -0.5, 0, 0.5, 1, 1.5, 2];
const yTickText = ['-1', '-0.5', '0', '0.5', '1', '1.5', '2'];

// ---------- Right panel: kappa profiles ----------
const timeA1 = [1.17, 3.95, 3.97, 4.97, 5.00, 5.10, 5.14, 9.70, 9.72];
const kappaA1 = [1.18, 4.55, 3.98, 5.03, 4.63, 4.62, 4.57, 8.95, 5.08];
const timeA075 = [1.17, 3.95, 3.97, 4.97, 5.00, 5.09, 5.13, 9.70, 9.72];
const kappaA075 = [1.35, 5.55, 4.97, 6.32, 6.05, 6.00, 5.12, 10.00, 6.05];
const timeA05 = [1.17, 1.48, 1.58, 3.95, 3.97, 4.98, 5.00, 9.70, 9.72];
const kappaA05 = [2.24, 3.17, 3.18, 9.45, 7.70, 9.78, 8.15, 16.35, 7.90];
const timeA025 = [1.17, 3.95, 3.97, 4.48, 4.50, 4.97, 4.99, 5.06, 5.08, 5.10, 5.13, 9.70, 9.72];
const kappaA025 = [3.25, 15.45, 14.45, 16.45, 15.25, 17.00, 14.50, 14.55, 14.70, 14.70, 14.00, 27.50, 11.60];
const timeA01 = [1.15, 1.25, 3.50, 3.58, 9.70, 9.72];
const kappaA01 = [1.35, 0.92, 7.55, 7.72, 25.70, 18.60];

const colors = ['#FF0000', '#0000FF', '#00FF00', '#FF00FF', '#00FFFF'];
const trajColor = '#0072BD';
const axisColor = '#262626';
const FONT = 'DejaVu Sans, sans-serif';

const allPts = [].concat(tailPts, denseCorePts, corePts, periphPts, periph2Pts, fineRowPts, fineColPts, denseCore2Pts,
                         upperLeftPts, midPts, bridgePts, upperDensePts, upper2Pts, upper3Pts, upperPts);
const traces = [];
traces.push({
  x: allPts.map(p => p[0]), y: allPts.map(p => p[1]),
  type: 'scatter', mode: 'lines', name: 'Whole trajectory',
  line: {color: trajColor, width: 1.2}, xaxis: 'x', yaxis: 'y', legend: 'legend', hoverinfo: 'skip'
});
traces.push({
  x: wellX, y: wellY, type: 'scatter', mode: 'markers', name: 'Well center',
  marker: {color: '#000000', size: 10, line: {color: '#000000', width: 1}},
  xaxis: 'x', yaxis: 'y', legend: 'legend'
});
alphaLabels.forEach((lab, i) => {
  traces.push({
    x: [null], y: [null], type: 'scatter', mode: 'lines', name: lab,
    line: {color: colors[i], width: 1.3}, xaxis: 'x', yaxis: 'y', legend: 'legend'
  });
});
traces.push({
  x: entryX, y: entryY, type: 'scatter', mode: 'markers', showlegend: false,
  marker: {color: colors, size: 10, line: {color: '#000000', width: 1}},
  xaxis: 'x', yaxis: 'y'
});
const kt = [timeA1, timeA075, timeA05, timeA025, timeA01];
const kk = [kappaA1, kappaA075, kappaA05, kappaA025, kappaA01];
alphaLabels.forEach((lab, i) => {
  traces.push({
    x: kt[i], y: kk[i], type: 'scatter', mode: 'lines', name: lab,
    line: {color: colors[i], width: 1.3}, xaxis: 'x2', yaxis: 'y2', legend: 'legend2'
  });
});

const shapes = radii.map((r, i) => ({
  type: 'circle', xref: 'x', yref: 'y',
  x0: wellX[0] - r, x1: wellX[0] + r, y0: wellY[0] - r, y1: wellY[0] + r,
  line: {color: colors[i], width: 1.2}, layer: 'above'
}));

const W = 1107, H = 541;
const commonAxis = {
  showline: true, linecolor: axisColor, linewidth: 1, mirror: 'ticks',
  ticks: 'inside', ticklen: 6, tickcolor: axisColor, tickwidth: 1,
  showgrid: false, zeroline: false,
  tickfont: {family: FONT, size: 16, color: axisColor}
};
const layout = {
  width: W, height: H,
  margin: {l: 0, r: 0, t: 0, b: 0},
  paper_bgcolor: '#ffffff', plot_bgcolor: '#ffffff',
  font: {family: FONT, color: axisColor},
  showlegend: true,
  xaxis: Object.assign({}, commonAxis, {
    domain: [77 / W, 514 / W], range: [-2.761, 0.827], anchor: 'y',
    tickmode: 'array', tickvals: xTickVals, ticktext: xTickText, ticklabelstandoff: 3,
    title: {text: 'x (nm)', font: {family: FONT, size: 19, color: axisColor}, standoff: 4}
  }),
  yaxis: Object.assign({}, commonAxis, {
    domain: [1 - 484 / H, 1 - 34.5 / H], range: [-1.351, 2.340], anchor: 'x',
    tickmode: 'array', tickvals: yTickVals, ticktext: yTickText,
    title: {text: 'y (nm)', font: {family: FONT, size: 19, color: axisColor}, standoff: 6}
  }),
  xaxis2: Object.assign({}, commonAxis, {
    domain: [653 / W, 1090 / W], range: [0, 10], anchor: 'y2', dtick: 2, tick0: 0, ticklabelstandoff: 3,
    title: {text: 'Time (ns)', font: {family: FONT, size: 19, color: axisColor}, standoff: 4}
  }),
  yaxis2: Object.assign({}, commonAxis, {
    domain: [1 - 484 / H, 1 - 35 / H], range: [0, 30], anchor: 'x2', dtick: 5, tick0: 0,
    title: {text: 'κ', font: {family: FONT, size: 19, color: axisColor}, standoff: 6}
  }),
  legend: {
    x: 77 / W, y: 1 - 34.5 / H, xanchor: 'left', yanchor: 'top',
    bgcolor: '#ffffff', bordercolor: axisColor, borderwidth: 1,
    font: {family: FONT, size: 15, color: '#000000'}, tracegroupgap: 0
  },
  legend2: {
    x: 666 / W, y: 1 - 49 / H, xanchor: 'left', yanchor: 'top',
    bgcolor: '#ffffff', bordercolor: axisColor, borderwidth: 1,
    font: {family: FONT, size: 15, color: '#000000'}, tracegroupgap: 0
  },
  shapes: shapes,
  annotations: [
    {text: '<b>3 wells, T=25ns, Δ t=0.006ns</b>', xref: 'paper', yref: 'paper',
     x: (77 + 514) / 2 / W, y: 1 - 15 / H, xanchor: 'center', yanchor: 'middle', showarrow: false,
     font: {family: FONT, size: 20, color: '#000000'}},
    {text: '<b>Corresponding κ profiles</b>', xref: 'paper', yref: 'paper',
     x: (653 + 1090) / 2 / W, y: 1 - 15 / H, xanchor: 'center', yanchor: 'middle', showarrow: false,
     font: {family: FONT, size: 20, color: '#000000'}}
  ]
};

Plotly.newPlot('chart', traces, layout, {staticPlot: true, displayModeBar: false});
</script>
</body>
</html>
